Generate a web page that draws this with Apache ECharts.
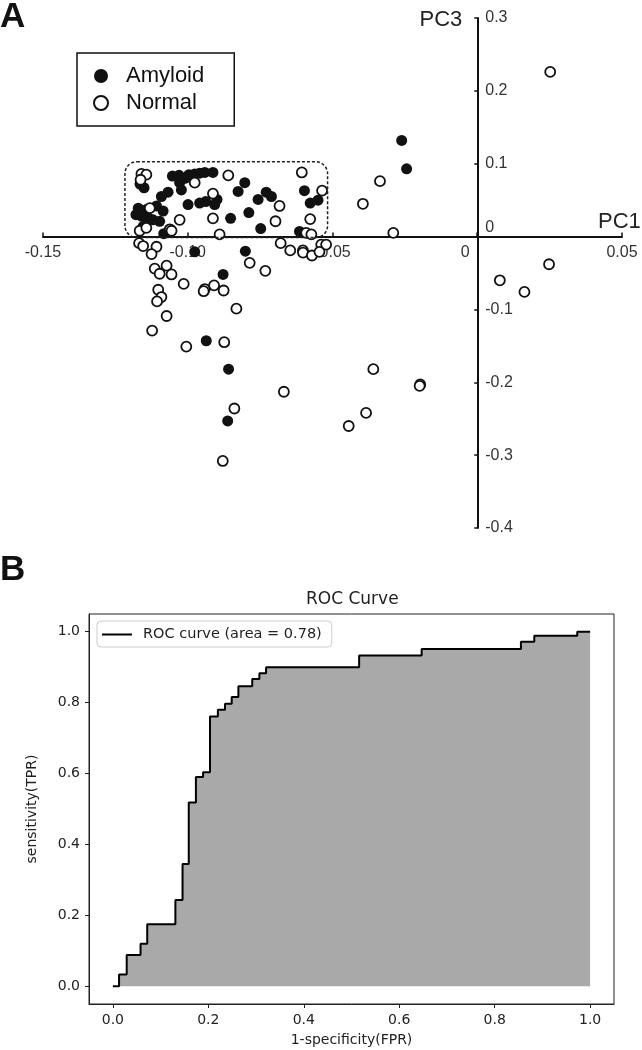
<!DOCTYPE html>
<html>
<head>
<meta charset="utf-8">
<script src="https://cdn.jsdelivr.net/npm/echarts@6/dist/echarts.min.js"></script>
<style>
  body { margin: 0; background: #fff; }
  #chart { width: 642px; height: 1050px; }
</style>
</head>
<body>
<div id="chart"></div>
<script>
// Panel A: PCA scores (PC1, PC3)
const amyloidPts = [
  [-0.1151, 0.067], [-0.1053, 0.083], [-0.1030, 0.084], [-0.1010, 0.080], [-0.0996, 0.085],
  [-0.0976, 0.086], [-0.0959, 0.087], [-0.0941, 0.088], [-0.0913, 0.088], [-0.1028, 0.074],
  [-0.1022, 0.064], [-0.0999, 0.044], [-0.1068, 0.061], [-0.1091, 0.055], [-0.1108, 0.042],
  [-0.1085, 0.035], [-0.1097, 0.021], [-0.1171, 0.039], [-0.1179, 0.030], [-0.1160, 0.028],
  [-0.1143, 0.037], [-0.1137, 0.026], [-0.1120, 0.023], [-0.1154, 0.014], [-0.1083, 0.004],
  [-0.0959, 0.046], [-0.0938, 0.048], [-0.0899, 0.051], [-0.0907, 0.044], [-0.0826, 0.062],
  [-0.0803, 0.074], [-0.0852, 0.025], [-0.0789, 0.033], [-0.0748, 0.011], [-0.0757, 0.051],
  [-0.0729, 0.061], [-0.0711, 0.055], [-0.0597, 0.063], [-0.0577, 0.046], [-0.0550, 0.050],
  [-0.0614, 0.007], [-0.1165, 0.072],
  [-0.0261, 0.132], [-0.0244, 0.093], [-0.0976, -0.021], [-0.0801, -0.020], [-0.0878, -0.052],
  [-0.0936, -0.143], [-0.0859, -0.182], [-0.0862, -0.253]
];
const normalPts = [
  [-0.1160, 0.086], [-0.1143, 0.085], [-0.1163, 0.078], [-0.0976, 0.074], [-0.0860, 0.084],
  [-0.1131, 0.039], [-0.1166, 0.008], [-0.1143, 0.012], [-0.1028, 0.023], [-0.1062, 0.010],
  [-0.0913, 0.059], [-0.0913, 0.025], [-0.0890, 0.003], [-0.0683, 0.042], [-0.0697, 0.021],
  [-0.0606, 0.088], [-0.0536, 0.063], [-0.0577, 0.024], [-0.0591, 0.005], [-0.0573, 0.003],
  [-0.1056, 0.008],
  [0.0252, 0.226], [-0.0336, 0.076], [-0.0395, 0.045], [-0.0290, 0.005], [0.0248, -0.038],
  [0.0078, -0.060], [0.0163, -0.076], [-0.0359, -0.182], [-0.0197, -0.203], [-0.0199, -0.205],
  [-0.0384, -0.242], [-0.0444, -0.260],
  [-0.1168, -0.009], [-0.1154, -0.013], [-0.1108, -0.014], [-0.1125, -0.024], [-0.0786, -0.036],
  [-0.0732, -0.047], [-0.0679, -0.009], [-0.0646, -0.019], [-0.0602, -0.019], [-0.0602, -0.022],
  [-0.0571, -0.026], [-0.0539, -0.011], [-0.0522, -0.011], [-0.0545, -0.021], [-0.1114, -0.044],
  [-0.1073, -0.040], [-0.1097, -0.051], [-0.1056, -0.052], [-0.1014, -0.065], [-0.0941, -0.072],
  [-0.0945, -0.075], [-0.0909, -0.067], [-0.0876, -0.074], [-0.1102, -0.073], [-0.1091, -0.083],
  [-0.1106, -0.089], [-0.0832, -0.099], [-0.1073, -0.109], [-0.1123, -0.129], [-0.0874, -0.145],
  [-0.1005, -0.151], [-0.0668, -0.213], [-0.0839, -0.236], [-0.0879, -0.308]
];
// dotted box round the cluster (data units)
const boxX = [-0.1217, -0.0517];
const boxY = [0.1027, -0.0014];

// Panel B: ROC curve vertices
const fpr = [0, 0.013, 0.013, 0.029, 0.029, 0.058, 0.058, 0.072, 0.072, 0.131, 0.131, 0.146, 0.146,
  0.159, 0.159, 0.174, 0.174, 0.189, 0.189, 0.2035, 0.2035, 0.22, 0.22, 0.235, 0.235, 0.249, 0.249,
  0.263, 0.263, 0.292, 0.292, 0.307, 0.307, 0.321, 0.321, 0.516, 0.516, 0.647, 0.647, 0.855, 0.855,
  0.883, 0.883, 0.973, 0.973, 1.0];
const tpr = [0, 0, 0.033, 0.033, 0.088, 0.088, 0.12, 0.12, 0.175, 0.175, 0.243, 0.243, 0.345,
  0.345, 0.518, 0.518, 0.59, 0.59, 0.604, 0.604, 0.761, 0.761, 0.78, 0.78, 0.797, 0.797, 0.816,
  0.816, 0.846, 0.846, 0.867, 0.867, 0.883, 0.883, 0.90, 0.90, 0.933, 0.933, 0.951, 0.951, 0.972,
  0.972, 0.989, 0.989, 1.0, 1.0];
const rocTicks = [0, 0.2, 0.4, 0.6, 0.8, 1.0];
const rocName = 'ROC curve (area = 0.78)';

const fontA = 'Liberation Sans, Arial, sans-serif';
const fontB = 'DejaVu Sans, sans-serif';

const chart = echarts.init(document.getElementById('chart'));

const option = {
  backgroundColor: '#fff',
  animation: false,
  title: [
    { text: 'A', left: 0, top: 0, padding: 0, textStyle: { fontFamily: fontA, fontSize: 35, fontWeight: 'bold', color: '#111' } },
    { text: 'B', left: 0, top: 553, padding: 0, textStyle: { fontFamily: fontA, fontSize: 35, fontWeight: 'bold', color: '#111' } },
    { text: 'ROC Curve', left: 306, top: 591, padding: 0, textStyle: { fontFamily: fontB, fontSize: 17, fontWeight: 'normal', color: '#222' } }
  ],
  legend: [
    {
      data: ['Amyloid', 'Normal'],
      orient: 'vertical',
      left: 77, top: 53,
      borderColor: '#111', borderWidth: 1.5,
      padding: [12, 30, 12, 16],
      itemGap: 5, itemWidth: 14, itemHeight: 14,
      textStyle: { fontFamily: fontA, fontSize: 22, color: '#111', padding: [0, 0, 0, 13] }
    },
    {
      data: [{ name: rocName, icon: 'rect' }],
      left: 97, top: 621,
      borderColor: '#ccc', borderWidth: 1, borderRadius: 4,
      padding: [6, 10, 5, 5],
      itemWidth: 30, itemHeight: 2,
      itemStyle: { color: '#000', borderWidth: 0 },
      textStyle: { fontFamily: fontB, fontSize: 14.5, color: '#222', padding: [0, 0, 0, 6] }
    }
  ],
  grid: [
    { left: 43, right: 20, top: 18, bottom: 522, containLabel: false, outerBoundsMode: 'none' },
    { left: 89, right: 28, top: 614, bottom: 46, containLabel: false, outerBoundsMode: 'none', show: true, borderColor: '#222', borderWidth: 1, backgroundColor: 'transparent' }
  ],
  xAxis: [
    {
      gridIndex: 0, type: 'value', min: -0.15, max: 0.05, interval: 0.05,
      name: 'PC1', nameLocation: 'end', nameGap: -24,
      nameTextStyle: { fontFamily: fontA, fontSize: 22, color: '#222', verticalAlign: 'bottom', padding: [0, 0, 4, 0] },
      axisLine: { onZero: false, lineStyle: { color: '#111', width: 2 } },
      axisTick: { show: true, inside: true, length: 4, lineStyle: { color: '#111', width: 1.5 } },
      splitLine: { show: false },
      axisLabel: {
        fontFamily: fontA, fontSize: 16, color: '#333', margin: 8,
        formatter: v => Math.abs(v) < 1e-9 ? '{z|0}' : v.toFixed(2),
        rich: { z: { fontFamily: fontA, fontSize: 16, color: '#333', padding: [0, 24, 0, 0] } }
      }
    },
    {
      gridIndex: 1, type: 'value', min: -0.05, max: 1.05,
      name: '1-specificity(FPR)', nameLocation: 'middle', nameGap: 29,
      nameTextStyle: { fontFamily: fontB, fontSize: 14, color: '#222' },
      axisLine: { onZero: false, lineStyle: { color: '#222', width: 1 } },
      axisTick: { show: true, length: 4, customValues: rocTicks, lineStyle: { color: '#222' } },
      splitLine: { show: false },
      axisLabel: { customValues: rocTicks, fontFamily: fontB, fontSize: 14, color: '#222', margin: 9, formatter: v => v.toFixed(1) }
    }
  ],
  yAxis: [
    {
      gridIndex: 0, type: 'value', min: -0.4, max: 0.3, interval: 0.1,
      name: 'PC3', nameLocation: 'end', nameGap: -2,
      nameTextStyle: { fontFamily: fontA, fontSize: 22, color: '#222', align: 'right', verticalAlign: 'middle', padding: [0, 15, 0, 0] },
      axisLine: { onZero: false, lineStyle: { color: '#111', width: 2 } },
      axisTick: { show: true, length: 3, lineStyle: { color: '#111', width: 1.5 } },
      splitLine: { show: false },
      axisLabel: {
        inside: true, fontFamily: fontA, fontSize: 16, color: '#333', margin: 8,
        formatter: v => Math.abs(v) < 1e-9 ? '{z|0}' : v.toFixed(1),
        rich: { z: { fontFamily: fontA, fontSize: 16, color: '#333', padding: [0, 0, 18, 0] } }
      }
    },
    {
      gridIndex: 1, type: 'value', min: -0.05, max: 1.05,
      name: 'sensitivity(TPR)', nameLocation: 'middle', nameGap: 50,
      nameTextStyle: { fontFamily: fontB, fontSize: 14, color: '#222' },
      axisLine: { onZero: false, lineStyle: { color: '#222', width: 1 } },
      axisTick: { show: true, length: 4, customValues: rocTicks, lineStyle: { color: '#222' } },
      splitLine: { show: false },
      axisLabel: { customValues: rocTicks, fontFamily: fontB, fontSize: 14, color: '#222', margin: 9, formatter: v => v.toFixed(1) }
    }
  ],
  series: [
    {
      name: 'Amyloid', type: 'scatter', xAxisIndex: 0, yAxisIndex: 0,
      data: amyloidPts, symbol: 'circle', symbolSize: 11,
      itemStyle: { color: '#111', borderColor: '#111', borderWidth: 0, opacity: 1 }
    },
    {
      name: 'Normal', type: 'scatter', xAxisIndex: 0, yAxisIndex: 0,
      data: normalPts, symbol: 'circle', symbolSize: 10,
      itemStyle: { color: '#fff', borderColor: '#111', borderWidth: 1.8, opacity: 1 }
    },
    {
      name: rocName, type: 'line', xAxisIndex: 1, yAxisIndex: 1,
      data: fpr.map((x, i) => [x, tpr[i]]),
      showSymbol: false, symbol: 'none',
      color: '#000',
      lineStyle: { color: '#000', width: 2 },
      areaStyle: { color: '#a9a9a9', opacity: 1 }
    }
  ]
};
chart.setOption(option);

// move panel A axes so they cross at (0, 0), labels and ticks included
const zeroPx = chart.convertToPixel({ gridIndex: 0 }, [0, 0]);
const cornerPx = chart.convertToPixel({ gridIndex: 0 }, [-0.15, -0.4]);
chart.setOption({
  xAxis: [{ offset: -(cornerPx[1] - zeroPx[1]) }, {}],
  yAxis: [{ offset: -(zeroPx[0] - cornerPx[0]) }, {}]
});

// dotted rounded box round the clustered samples, placed from data coords
const p0 = chart.convertToPixel({ gridIndex: 0 }, [boxX[0], boxY[0]]);
const p1 = chart.convertToPixel({ gridIndex: 0 }, [boxX[1], boxY[1]]);
chart.setOption({
  graphic: [{
    type: 'rect', z: 100, silent: true,
    shape: { x: p0[0], y: p0[1], width: p1[0] - p0[0], height: p1[1] - p0[1], r: 12 },
    style: { fill: 'none', stroke: '#222', lineWidth: 1.5, lineDash: [3, 2] }
  }]
});
</script>
</body>
</html>
